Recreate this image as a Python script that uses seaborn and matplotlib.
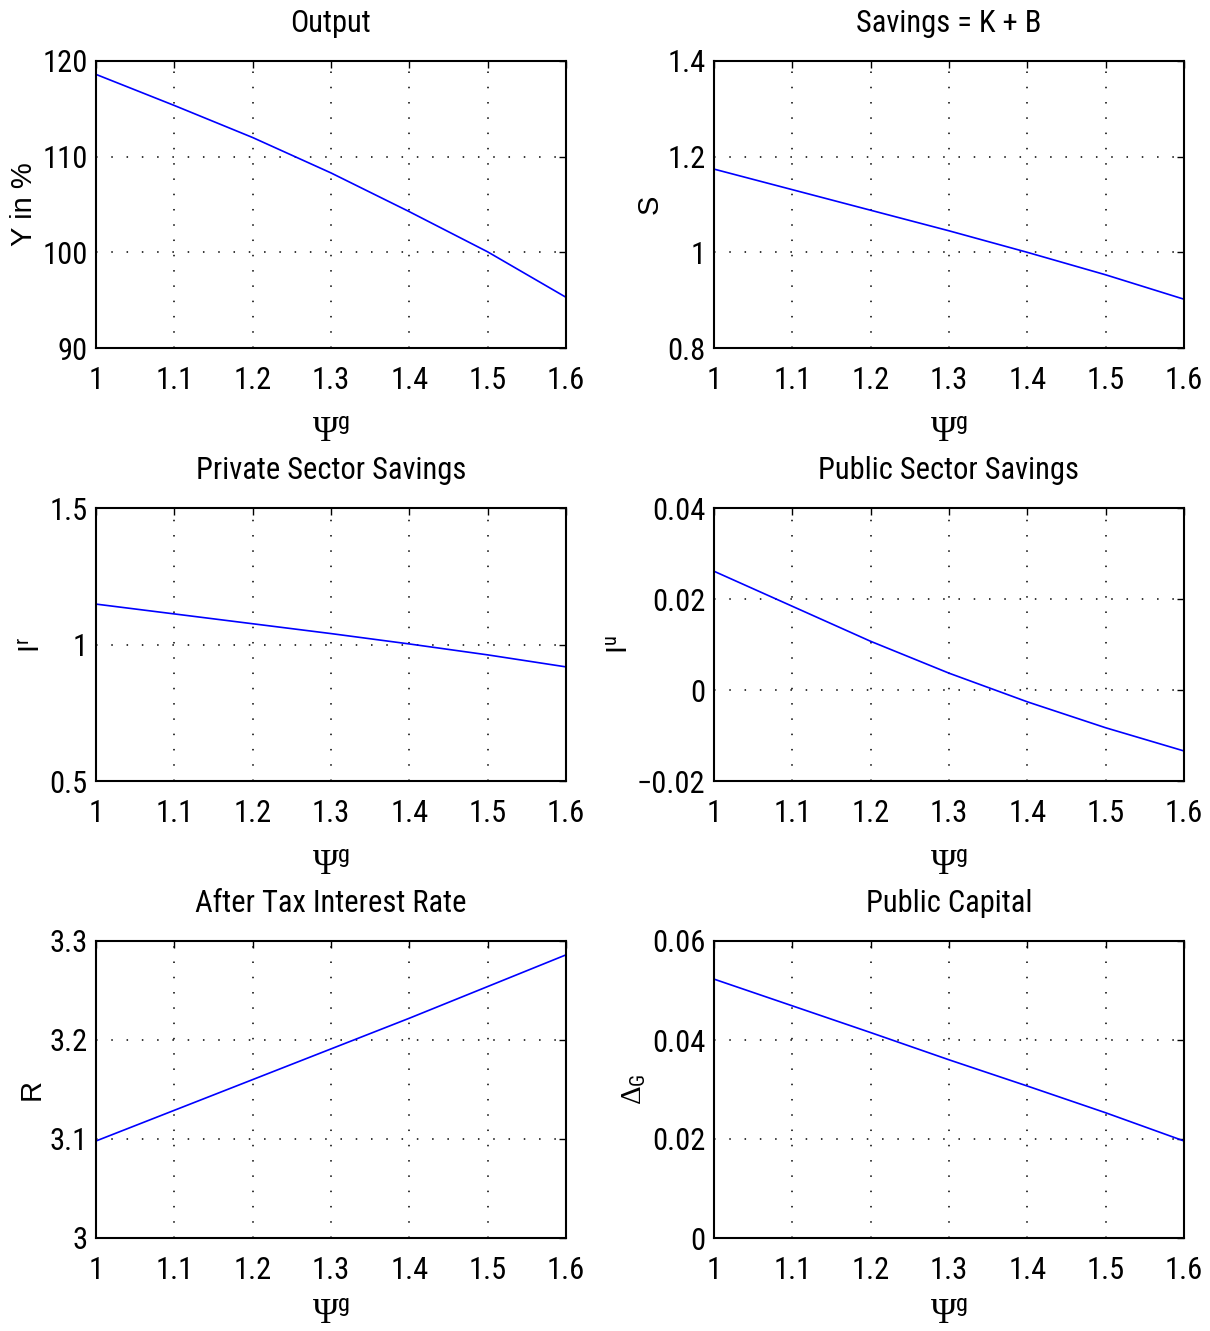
import matplotlib
matplotlib.use("Agg")
import matplotlib.pyplot as plt
import matplotlib.font_manager as fm
import seaborn as sns
import pandas as pd

psi = [1.0, 1.1, 1.2, 1.3, 1.4, 1.5, 1.6]
output_y = [118.6, 115.35, 112.0, 108.3, 104.25, 100.05, 95.3]
savings_s = [1.174, 1.131, 1.088, 1.045, 1.000, 0.953, 0.902]
private_ir = [1.148, 1.112, 1.076, 1.040, 1.002, 0.962, 0.918]
public_iu = [0.0261, 0.0184, 0.0107, 0.0037, -0.0026, -0.0083, -0.0134]
rate_r = [3.098, 3.129, 3.160, 3.191, 3.222, 3.254, 3.286]
delta_g = [0.0523, 0.0469, 0.0415, 0.0360, 0.0307, 0.0253, 0.0196]

titles = ["Output", "Savings = K + B", "Private Sector Savings",
          "Public Sector Savings", "After Tax Interest Rate", "Public Capital"]
ylabels = ["Y in %", "S", r"I$^{\mathsf{r}}$", r"I$^{\mathsf{u}}$", "R", r"$\Delta_{\mathsf{G}}$"]
series = [output_y, savings_s, private_ir, public_iu, rate_r, delta_g]
ylims = [(90, 120), (0.8, 1.4), (0.5, 1.5), (-0.02, 0.04), (3.0, 3.3), (0.0, 0.06)]
yticks = [[90, 100, 110, 120], [0.8, 1.0, 1.2, 1.4], [0.5, 1.0, 1.5],
          [-0.02, 0.0, 0.02, 0.04], [3.0, 3.1, 3.2, 3.3], [0.0, 0.02, 0.04, 0.06]]
yticklabels = [["90", "100", "110", "120"], ["0.8", "1", "1.2", "1.4"],
               ["0.5", "1", "1.5"], ["\u22120.02", "0", "0.02", "0.04"],
               ["3", "3.1", "3.2", "3.3"], ["0", "0.02", "0.04", "0.06"]]
xticks = [1.0, 1.1, 1.2, 1.3, 1.4, 1.5, 1.6]
xticklabels = ["1", "1.1", "1.2", "1.3", "1.4", "1.5", "1.6"]


def available(name):
    try:
        fm.findfont(fm.FontProperties(family=name), fallback_to_default=False)
        return True
    except ValueError:
        return False


narrow = None
for cand in ["Liberation Sans Narrow", "Roboto Condensed", "Open Sans Condensed"]:
    if available(cand):
        narrow = cand
        break
main_font = narrow if narrow else "Liberation Sans"
num_size = 22 if narrow else 20

sns.set_theme(style="white")
plt.rcParams["font.family"] = [main_font, "DejaVu Sans"]
plt.rcParams["text.color"] = "black"
plt.rcParams["axes.labelcolor"] = "black"
plt.rcParams["mathtext.fontset"] = "custom"
plt.rcParams["mathtext.rm"] = "Liberation Serif"
plt.rcParams["mathtext.it"] = "Liberation Serif:italic"
plt.rcParams["mathtext.sf"] = main_font

W, H = 1210, 1331
fig = plt.figure(figsize=(W / 100, H / 100), dpi=100)

cols = [(96, 566), (714, 1184)]
rows = [(61, 348), (508, 781), (941, 1238)]
xlabel_pads = [15, 15, 9]

for i in range(6):
    r, c = divmod(i, 2)
    x0, x1 = cols[c]
    y0, y1 = rows[r]
    ax = fig.add_axes([x0 / W, 1 - y1 / H, (x1 - x0) / W, (y1 - y0) / H])
    df = pd.DataFrame({"psi": psi, "val": series[i]})
    sns.lineplot(data=df, x="psi", y="val", ax=ax, color="#0000ff", linewidth=1.2)
    ax.set_xlim(1.0, 1.6)
    ax.set_ylim(*ylims[i])
    ax.set_xticks(xticks)
    ax.set_xticklabels(xticklabels)
    ax.set_yticks(yticks[i])
    ax.set_yticklabels(yticklabels[i])
    ax.tick_params(direction="in", length=5, width=1, top=True, right=True,
                   labelsize=num_size, colors="black")
    ax.tick_params(axis="x", pad=13)
    ax.tick_params(axis="y", pad=6)
    ax.grid(True, linestyle=(0, (1, 9)), color="black", linewidth=1.1)
    for s in ax.spines.values():
        s.set_color("black")
        s.set_linewidth(1.5)
    ax.set_title(titles[i], fontsize=num_size, pad=21, color="black")
    ax.set_xlabel(r"$\Psi^{\mathsf{g}}$", fontsize=25, labelpad=xlabel_pads[r])
    ax.set_ylabel(ylabels[i], fontsize=21, family=["Liberation Sans", "DejaVu Sans"],
                  labelpad=3)

fig.savefig("out.png", dpi=100)
